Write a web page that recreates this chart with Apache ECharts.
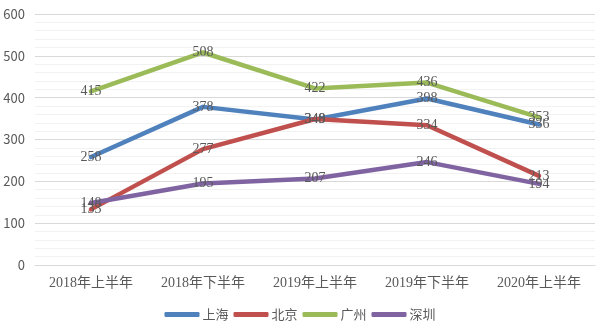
<!DOCTYPE html>
<html>
<head>
<meta charset="utf-8">
<script src="https://cdn.jsdelivr.net/npm/echarts@6/dist/echarts.min.js"></script>
<style>
  html, body { margin: 0; padding: 0; background: #fff; }
  #chart { width: 600px; height: 330px; }
</style>
</head>
<body>
<div id="chart"></div>
<script>
// Half-year periods
var categories = ['2018年上半年', '2018年下半年', '2019年上半年', '2019年下半年', '2020年上半年'];
// City series
var shanghai = [258, 378, 348, 398, 336];
var beijing  = [133, 277, 349, 334, 213];
var guangzhou = [415, 508, 422, 436, 353];
var shenzhen = [148, 195, 207, 246, 194];
// Value axis ticks
var yTicks = [0, 100, 200, 300, 400, 500, 600];

var SANS = '"Noto Sans CJK SC", sans-serif';
var SERIF = '"Liberation Serif", "Noto Sans CJK SC", serif';
var TEXT = '#595959';

function city(name, data, color) {
  return {
    name: name,
    type: 'line',
    data: data,
    symbol: 'circle',
    symbolSize: 0,
    lineStyle: { color: color, width: 4.5, cap: 'round', join: 'round' },
    itemStyle: { color: color },
    label: {
      show: true,
      position: 'inside',
      color: TEXT,
      fontFamily: SERIF,
      fontSize: 14
    }
  };
}

var chart = echarts.init(document.getElementById('chart'), null, { renderer: 'canvas' });
chart.setOption({
  animation: false,
  grid: { left: 35, right: 5, top: 14, bottom: 65 },
  xAxis: {
    type: 'category',
    data: categories,
    boundaryGap: true,
    axisLine: { lineStyle: { color: '#d9d9d9', width: 1 } },
    axisTick: { show: false },
    axisLabel: { color: TEXT, fontFamily: SERIF, fontSize: 14, margin: 11 }
  },
  yAxis: {
    type: 'value',
    min: yTicks[0],
    max: yTicks[yTicks.length - 1],
    interval: 100,
    axisLine: { show: false },
    axisTick: { show: false },
    axisLabel: { color: TEXT, fontFamily: SANS, fontSize: 13, margin: 10 },
    splitLine: { lineStyle: { color: '#d9d9d9', width: 1 } },
    minorTick: { show: false, splitNumber: 5 },
    minorSplitLine: { show: true, lineStyle: { color: '#f2f2f2', width: 1 } }
  },
  legend: {
    bottom: 4,
    left: 'center',
    itemWidth: 35,
    itemHeight: 5,
    itemGap: 5,
    icon: 'roundRect',
    textStyle: { color: TEXT, fontFamily: SANS, fontSize: 13, padding: [0, 0, 0, -2] },
    data: ['上海', '北京', '广州', '深圳']
  },
  series: [
    city('上海', shanghai, '#4F81BD'),
    city('北京', beijing, '#C0504D'),
    city('广州', guangzhou, '#9BBB59'),
    city('深圳', shenzhen, '#8064A2')
  ]
});
</script>
</body>
</html>
